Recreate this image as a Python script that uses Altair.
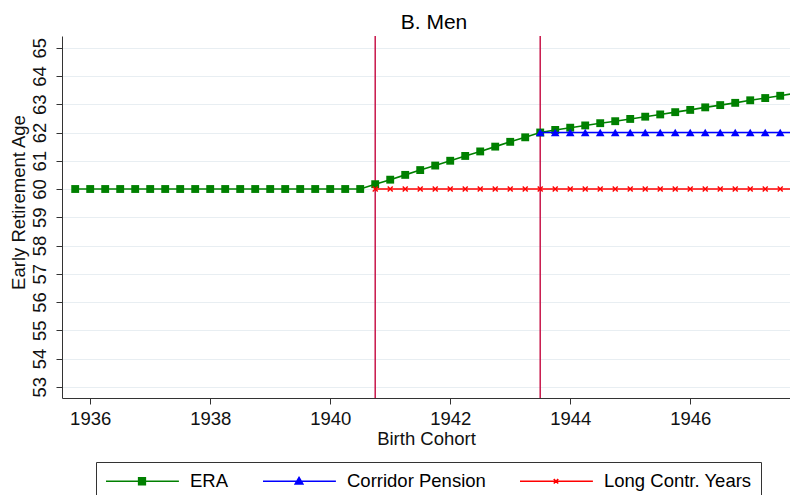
import altair as alt
import pandas as pd

# ---------------- data ----------------
era_cohorts = [1935.75, 1936.0, 1936.25, 1936.5, 1936.75, 1937.0, 1937.25, 1937.5, 1937.75,
               1938.0, 1938.25, 1938.5, 1938.75, 1939.0, 1939.25, 1939.5, 1939.75, 1940.0,
               1940.25, 1940.5, 1940.75, 1941.0, 1941.25, 1941.5, 1941.75, 1942.0, 1942.25,
               1942.5, 1942.75, 1943.0, 1943.25, 1943.5, 1943.75, 1944.0, 1944.25, 1944.5,
               1944.75, 1945.0, 1945.25, 1945.5, 1945.75, 1946.0, 1946.25, 1946.5, 1946.75,
               1947.0, 1947.25, 1947.5, 1947.75]
era_values = [60, 60, 60, 60, 60, 60, 60, 60, 60,
              60, 60, 60, 60, 60, 60, 60, 60, 60,
              60, 60, 60.17, 60.33, 60.5, 60.67, 60.83, 61.0, 61.17,
              61.33, 61.5, 61.67, 61.83, 62.0, 62.09, 62.17, 62.25, 62.33,
              62.4, 62.48, 62.56, 62.64, 62.72, 62.8, 62.89, 62.97, 63.05,
              63.14, 63.22, 63.3, 63.39]

corridor_cohorts = [1943.5, 1943.75, 1944.0, 1944.25, 1944.5, 1944.75, 1945.0, 1945.25, 1945.5,
                    1945.75, 1946.0, 1946.25, 1946.5, 1946.75, 1947.0, 1947.25, 1947.5, 1947.75]
corridor_values = [62, 62, 62, 62, 62, 62, 62, 62, 62,
                   62, 62, 62, 62, 62, 62, 62, 62, 62]

long_cohorts = [1940.75, 1941.0, 1941.25, 1941.5, 1941.75, 1942.0, 1942.25, 1942.5, 1942.75,
                1943.0, 1943.25, 1943.5, 1943.75, 1944.0, 1944.25, 1944.5, 1944.75, 1945.0,
                1945.25, 1945.5, 1945.75, 1946.0, 1946.25, 1946.5, 1946.75, 1947.0, 1947.25,
                1947.5, 1947.75]
long_values = [60, 60, 60, 60, 60, 60, 60, 60, 60,
               60, 60, 60, 60, 60, 60, 60, 60, 60,
               60, 60, 60, 60, 60, 60, 60, 60, 60,
               60, 60]

reform_cohorts = [1940.75, 1943.5]

series_names = ["ERA", "Corridor Pension", "Long Contr. Years"]
series_colors = ["#008000", "#0000ff", "#ff0000"]
y_ticks = [53, 54, 55, 56, 57, 58, 59, 60, 61, 62, 63, 64, 65]
x_ticks = [1936, 1938, 1940, 1942, 1944, 1946]

# ---------------- tables ----------------
df_era = pd.DataFrame({"cohort": era_cohorts, "value": era_values, "series": series_names[0]})
df_cor = pd.DataFrame({"cohort": corridor_cohorts, "value": corridor_values, "series": series_names[1]})
df_long = pd.DataFrame({"cohort": long_cohorts, "value": long_values, "series": series_names[2]})
df_rules = pd.DataFrame({"cohort": reform_cohorts})
# legend carrier rows (placed outside the domain and clipped)
df_leg = pd.DataFrame({"cohort": [1930.0] * 3, "value": [60] * 3, "series": series_names})

FONT = "Liberation Sans"
FS = 18.5
xscale = alt.Scale(domain=[1935.53, 1947.663], nice=False, zero=False)
yscale = alt.Scale(domain=[52.602, 65.416], nice=False, zero=False)

xaxis = alt.Axis(values=x_ticks, format="d", title="Birth Cohort", grid=False,
                 labelFontSize=FS, titleFontSize=FS, titleFontWeight="normal",
                 labelPadding=5, tickSize=6, titlePadding=2)
yaxis = alt.Axis(values=y_ticks, title="Early Retirement Age", grid=True,
                 gridColor="#e8eef2", gridWidth=1.2,
                 labelAngle=270, labelAlign="center", labelBaseline="bottom",
                 labelFontSize=FS, titleFontSize=FS, titleFontWeight="normal",
                 labelPadding=7, tickSize=6, titlePadding=2, titleY=166)

X = alt.X("cohort:Q", scale=xscale, axis=xaxis)
Y = alt.Y("value:Q", scale=yscale, axis=yaxis)

rules = alt.Chart(df_rules).mark_rule(color="#c8164a", strokeWidth=1.5).encode(
    x=alt.X("cohort:Q", scale=xscale, axis=xaxis)
)

XMARK = "M-1,-1L1,1M-1,1L1,-1"

def series_layers(df, color, shape, size, filled=True, stroke_w=1.5):
    line = alt.Chart(df).mark_line(color=color, strokeWidth=1.6, clip=True).encode(x=X, y=Y)
    pts = alt.Chart(df).mark_point(shape=shape, size=size, filled=filled, color=color,
                                   opacity=1, strokeWidth=stroke_w, clip=True).encode(x=X, y=Y)
    return [line, pts]

layers = [rules]
layers += series_layers(df_era, series_colors[0], "square", 62)
layers += series_layers(df_cor, series_colors[1], "triangle-up", 75)
layers += series_layers(df_long, series_colors[2], XMARK, 25, filled=False, stroke_w=1.4)

# legend symbols: a line segment with the marker in its middle (units of 9 px)
legend_paths = [
    "M-1,0H7.1M2.63,-0.37H3.37V0.37H2.63Z",
    "M-1,0H7.1M3,-0.42L3.42,0.3H2.58Z",
    "M-1,0H7.1M2.75,-0.25L3.25,0.25M2.75,0.25L3.25,-0.25",
]

legend = alt.Legend(title=None, orient="none", direction="horizontal", columns=3,
                    legendX=34, legendY=426,
                    strokeColor="#333333", fillColor="white", padding=9,
                    symbolSize=324, symbolStrokeWidth=1.6, symbolOpacity=1,
                    labelFontSize=18.5, labelFont=FONT, labelOffset=65,
                    columnPadding=30, labelLimit=400)

leg_layer = alt.Chart(df_leg).mark_point(filled=True, clip=True, size=50).encode(
    x=X, y=Y,
    shape=alt.Shape("series:N", scale=alt.Scale(domain=series_names, range=legend_paths), legend=legend),
    fill=alt.Fill("series:N", scale=alt.Scale(domain=series_names, range=series_colors), legend=legend),
    stroke=alt.Stroke("series:N", scale=alt.Scale(domain=series_names, range=series_colors), legend=legend),
)
layers.append(leg_layer)

chart = alt.layer(*layers).properties(
    width=728, height=362,
    padding={"left": 0, "top": 4, "right": 0, "bottom": 0},
    title=alt.TitleParams("B. Men", fontSize=21, font=FONT, fontWeight="normal", offset=2, dx=8),
).configure(font=FONT).configure_view(stroke=None).configure_axis(
    domainColor="#333333", tickColor="#333333", labelColor="#111111", titleColor="#111111",
    labelFont=FONT, titleFont=FONT,
)

chart.save("out.html", embed_options={"renderer": "svg", "actions": False})
